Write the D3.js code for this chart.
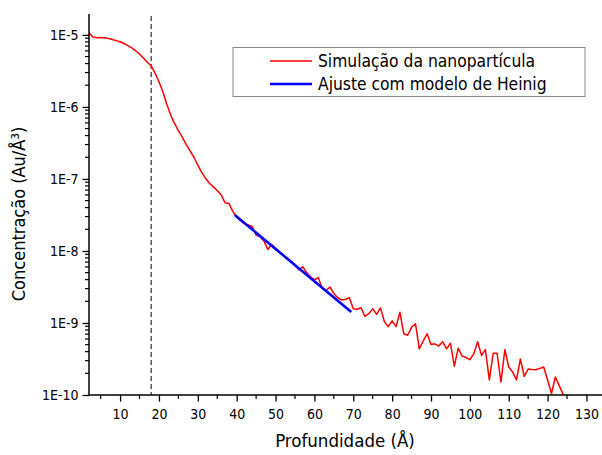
<!DOCTYPE html>
<html>
<head>
<meta charset="utf-8">
<script src="https://cdn.jsdelivr.net/npm/d3@7"></script>
<style>
  html, body { margin: 0; padding: 0; background: #fff; }
  svg text { font-family: "DejaVu Sans Condensed", "DejaVu Sans", sans-serif; font-stretch: condensed; }
</style>
</head>
<body>
<svg id="chart" width="602" height="455"></svg>
<script>
// ---- data ----
const depth = d3.range(2, 126); // 2..125 Å
const concentration = [
  1.07e-5, 9.33e-6, 9.12e-6, 9.23e-6, 9.12e-6, 8.91e-6, 8.61e-6, 8.32e-6, 8.04e-6, 7.59e-6,   // 2-11
  7.08e-6, 6.61e-6, 6.03e-6, 5.43e-6, 4.79e-6, 4.17e-6, 3.72e-6, 2.95e-6, 2.24e-6, 1.62e-6,   // 12-21
  1.10e-6, 7.76e-7, 5.89e-7, 4.68e-7, 3.80e-7, 3.02e-7, 2.45e-7, 2.00e-7, 1.55e-7, 1.23e-7,   // 22-31
  1.02e-7, 8.71e-8, 7.76e-8, 6.92e-8, 6.03e-8, 4.68e-8, 4.57e-8, 3.55e-8, 2.95e-8, 2.63e-8,   // 32-41
  2.40e-8, 2.29e-8, 2.19e-8, 1.66e-8, 1.58e-8, 1.38e-8, 1.05e-8, 1.23e-8, 1.07e-8, 9.77e-9,   // 42-51
  8.71e-9, 7.94e-9, 7.24e-9, 6.31e-9, 5.50e-9, 6.03e-9, 5.01e-9, 4.37e-9, 3.98e-9, 4.27e-9,   // 52-61
  3.02e-9, 2.82e-9, 3.16e-9, 2.57e-9, 2.24e-9, 2.09e-9, 2.14e-9, 2.24e-9, 1.58e-9, 1.55e-9,   // 62-71
  1.63e-9, 1.23e-9, 1.35e-9, 1.58e-9, 1.32e-9, 1.62e-9, 1.05e-9, 8.91e-10, 1.07e-9, 8.91e-10, // 72-81
  1.41e-9, 7.08e-10, 6.76e-10, 8.71e-10, 9.77e-10, 4.37e-10, 5.62e-10, 7.08e-10, 5.01e-10, 5.13e-10, // 82-91
  4.79e-10, 5.50e-10, 4.37e-10, 5.25e-10, 2.51e-10, 4.47e-10, 3.47e-10, 3.31e-10, 3.09e-10, 3.72e-10, // 92-101
  5.50e-10, 3.55e-10, 4.27e-10, 1.62e-10, 3.80e-10, 3.80e-10, 1.51e-10, 4.27e-10, 2.45e-10, 2.09e-10, // 102-111
  1.62e-10, 3.16e-10, 1.82e-10, 2.29e-10, 2.26e-10, 2.24e-10, 2.34e-10, 2.45e-10, 1.62e-10, 1.05e-10, // 112-121
  1.78e-10, 1.35e-10, 1.02e-10, 0.80e-10                                                          // 122-125
];
const fitDepth = [39.5, 69.5];
const fitConcentration = [3.16e-8, 1.42e-9];
const markerDepth = 18;
const xTicks = d3.range(10, 131, 10);
const xMinorTicks = d3.range(5, 136, 10);
const yTicks = [1e-10, 1e-9, 1e-8, 1e-7, 1e-6, 1e-5];
const seriesNames = ["Simulação da nanopartícula", "Ajuste com modelo de Heinig"];
const seriesColors = ["#ff0000", "#0000ff"];
const xTitle = "Profundidade (Å)";
const yTitle = "Concentração (Au/Å³)";

// ---- layout ----
const svg = d3.select("#chart");
const pL = 89, pR = 602, pT = 14, pB = 395;
const x = d3.scaleLinear().domain([2, 134]).range([pL, pR]);
const y = d3.scaleLog().domain([1e-10, 1.95e-5]).range([pB, pT]);

svg.append("defs").append("clipPath").attr("id", "clip")
  .append("rect").attr("x", pL).attr("y", pT).attr("width", pR - pL).attr("height", pB - pT);

// dashed marker
svg.append("line")
  .attr("x1", x(markerDepth)).attr("x2", x(markerDepth))
  .attr("y1", pT + 2).attr("y2", pB)
  .attr("stroke", "#333").attr("stroke-width", 1.2).attr("stroke-dasharray", "5,3");

// lines
const simData = depth.map((d, i) => [d, concentration[i]]);
const fitData = fitDepth.map((d, i) => [d, fitConcentration[i]]);
const line = d3.line().x(d => x(d[0])).y(d => y(d[1]));

const g = svg.append("g").attr("clip-path", "url(#clip)");
g.append("path").datum(simData).attr("d", line)
  .attr("fill", "none").attr("stroke", seriesColors[0]).attr("stroke-width", 1.5).attr("stroke-linejoin", "round");
g.append("path").datum(fitData).attr("d", line)
  .attr("fill", "none").attr("stroke", seriesColors[1]).attr("stroke-width", 2.6);

// y axis
const yAxis = d3.axisLeft(y).tickValues(yTicks).tickSize(6.5).tickPadding(4)
  .tickFormat(d => "1E" + Math.round(Math.log10(d)));
const yg = svg.append("g").attr("transform", `translate(${pL},0)`).call(yAxis);
yg.select(".domain").attr("d", `M0,${pT}V${pB}`).attr("stroke-width", 1.5);
yg.selectAll(".tick line").attr("stroke-width", 1.3);
yg.selectAll(".tick text").attr("font-size", 14).attr("fill", "#000");

const yMinor = [];
for (let e = -10; e <= -5; e++) for (let k = 2; k <= 9; k++) {
  const v = k * Math.pow(10, e);
  if (v <= y.domain()[1]) yMinor.push(v);
}
svg.append("g").selectAll("line").data(yMinor).join("line")
  .attr("x1", pL - 4).attr("x2", pL).attr("y1", d => y(d)).attr("y2", d => y(d))
  .attr("stroke", "#000").attr("stroke-width", 1.2);

// x axis
const xAxis = d3.axisBottom(x).tickValues(xTicks).tickSize(6.5).tickPadding(8);
const xg = svg.append("g").attr("transform", `translate(0,${pB})`).call(xAxis);
xg.select(".domain").attr("d", `M${pL},0H${pR}`).attr("stroke-width", 1.5);
xg.selectAll(".tick line").attr("stroke-width", 1.3);
xg.selectAll(".tick text").attr("font-size", 14).attr("fill", "#000");
svg.append("g").selectAll("line").data(xMinorTicks.filter(d => x(d) <= pR)).join("line")
  .attr("x1", d => x(d)).attr("x2", d => x(d)).attr("y1", pB).attr("y2", pB + 4)
  .attr("stroke", "#000").attr("stroke-width", 1.2);

// titles
svg.append("text").attr("x", 345).attr("y", 447).attr("text-anchor", "middle")
  .attr("font-size", 18.5).text(xTitle);
svg.append("text").attr("transform", "translate(25,214) rotate(-90)").attr("text-anchor", "middle")
  .attr("font-size", 18).text(yTitle);

// legend
const lg = svg.append("g");
lg.append("rect").attr("x", 233).attr("y", 47.5).attr("width", 352).attr("height", 49)
  .attr("fill", "#fff").attr("stroke", "#888").attr("stroke-width", 1);
seriesNames.forEach((name, i) => {
  const yy = 61 + i * 23;
  lg.append("line").attr("x1", 270).attr("x2", 312).attr("y1", yy).attr("y2", yy)
    .attr("stroke", seriesColors[i]).attr("stroke-width", i === 0 ? 1.5 : 2.6);
  lg.append("text").attr("x", 318).attr("y", yy + 6).attr("font-size", 17.3).text(name);
});
</script>
</body>
</html>
